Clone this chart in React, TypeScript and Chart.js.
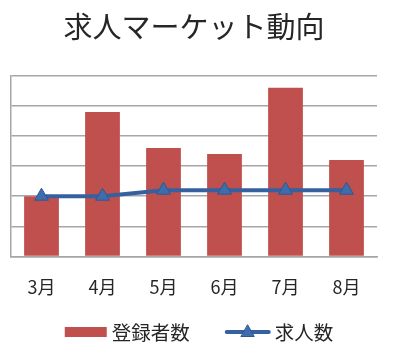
import React, { useEffect, useRef } from "react";
import { Chart, registerables } from "chart.js";

Chart.register(...registerables);

const titleText = "求人マーケット動向";
const categories = ["3月", "4月", "5月", "6月", "7月", "8月"];
const seriesNames = ["登録者数", "求人数"];
const registrants = [20, 48, 36, 34, 56, 32];
const openings = [20, 20, 22, 22, 22, 22];
const yMin = 0;
const yMax = 60;
const yStep = 10;

const FONT = "'Noto Sans CJK JP', 'Noto Sans', sans-serif";
const RED = "#C0504D";
const LINE = "#36609E";
const POINT_FILL = "#3E6DAE";
const POINT_BORDER = "#2E5890";
const GRID = "#A6A6A6";
const TEXT = "#262626";

const LEGEND_FONT_SIZE = 19.5;

const bottomLegend = {
  id: "bottomLegend",
  afterDraw(chart: any) {
    const ctx: CanvasRenderingContext2D = chart.ctx;
    ctx.save();
    ctx.font = `${LEGEND_FONT_SIZE}px ${FONT}`;
    ctx.textBaseline = "middle";
    ctx.fillStyle = TEXT;
    const w1 = ctx.measureText(seriesNames[0]).width;
    const w2 = ctx.measureText(seriesNames[1]).width;
    const boxW = 42, gapText = 5, gapItem = 35, lineW = 46, gapText2 = 4;
    const total = boxW + gapText + w1 + gapItem + lineW + gapText2 + w2;
    const cy = 332;
    let x = chart.width / 2 + 2 - total / 2;
    ctx.fillStyle = RED;
    ctx.fillRect(x, cy - 5, boxW, 10);
    x += boxW + gapText;
    ctx.fillStyle = TEXT;
    ctx.textAlign = "left";
    ctx.fillText(seriesNames[0], x, cy + 1);
    x += w1 + gapItem;
    ctx.strokeStyle = LINE;
    ctx.lineWidth = 4;
    ctx.lineCap = "round";
    ctx.beginPath();
    ctx.moveTo(x + 2, cy);
    ctx.lineTo(x + lineW - 2, cy);
    ctx.stroke();
    const mx = x + lineW / 2;
    ctx.fillStyle = POINT_FILL;
    ctx.strokeStyle = POINT_BORDER;
    ctx.lineWidth = 1;
    ctx.beginPath();
    ctx.moveTo(mx, cy - 7);
    ctx.lineTo(mx + 6.5, cy + 4.5);
    ctx.lineTo(mx - 6.5, cy + 4.5);
    ctx.closePath();
    ctx.fill();
    ctx.stroke();
    x += lineW + gapText2;
    ctx.fillStyle = TEXT;
    ctx.fillText(seriesNames[1], x, cy + 1);
    ctx.restore();
  },
};

export default function App() {
  const ref = useRef<HTMLCanvasElement | null>(null);

  useEffect(() => {
    document.body.style.margin = "0";
    const canvas = ref.current;
    if (!canvas) return;
    const chart = new Chart(canvas, {
      type: "bar",
      data: {
        labels: categories,
        datasets: [
          {
            type: "line",
            label: seriesNames[1],
            data: openings,
            borderColor: LINE,
            borderWidth: 4,
            pointStyle: "triangle",
            pointRadius: 8,
            pointBackgroundColor: POINT_FILL,
            pointBorderColor: POINT_BORDER,
            pointBorderWidth: 1,
            tension: 0,
            order: 0,
          } as any,
          {
            type: "bar",
            label: seriesNames[0],
            data: registrants,
            backgroundColor: RED,
            barPercentage: 0.57,
            categoryPercentage: 1,
            order: 1,
          },
        ],
      },
      options: {
        responsive: false,
        animation: false,
        layout: { padding: { left: 11, right: 17, top: 0, bottom: 42 } },
        plugins: {
          tooltip: { enabled: false },
          legend: { display: false },
          title: {
            display: true,
            text: titleText,
            color: TEXT,
            font: { family: FONT, size: 29, weight: "normal" },
            padding: { top: 10, bottom: 31 },
          },
        },
        scales: {
          x: {
            grid: { display: false, drawTicks: false },
            border: { display: true, color: GRID, width: 1.5 },
            ticks: {
              color: TEXT,
              padding: 20,
              font: { family: FONT, size: 18 },
            },
          },
          y: {
            min: yMin,
            max: yMax,
            ticks: { display: false, stepSize: yStep },
            grid: { color: GRID, lineWidth: 1.5, drawTicks: false },
            border: { display: true, color: GRID, width: 1.5 },
          },
        },
      },
      plugins: [bottomLegend],
    });
    return () => chart.destroy();
  }, []);

  return (
    <div style={{ width: 394, height: 360, background: "#fff" }}>
      <canvas ref={ref} width={394} height={360} style={{ display: "block" }} />
    </div>
  );
}
